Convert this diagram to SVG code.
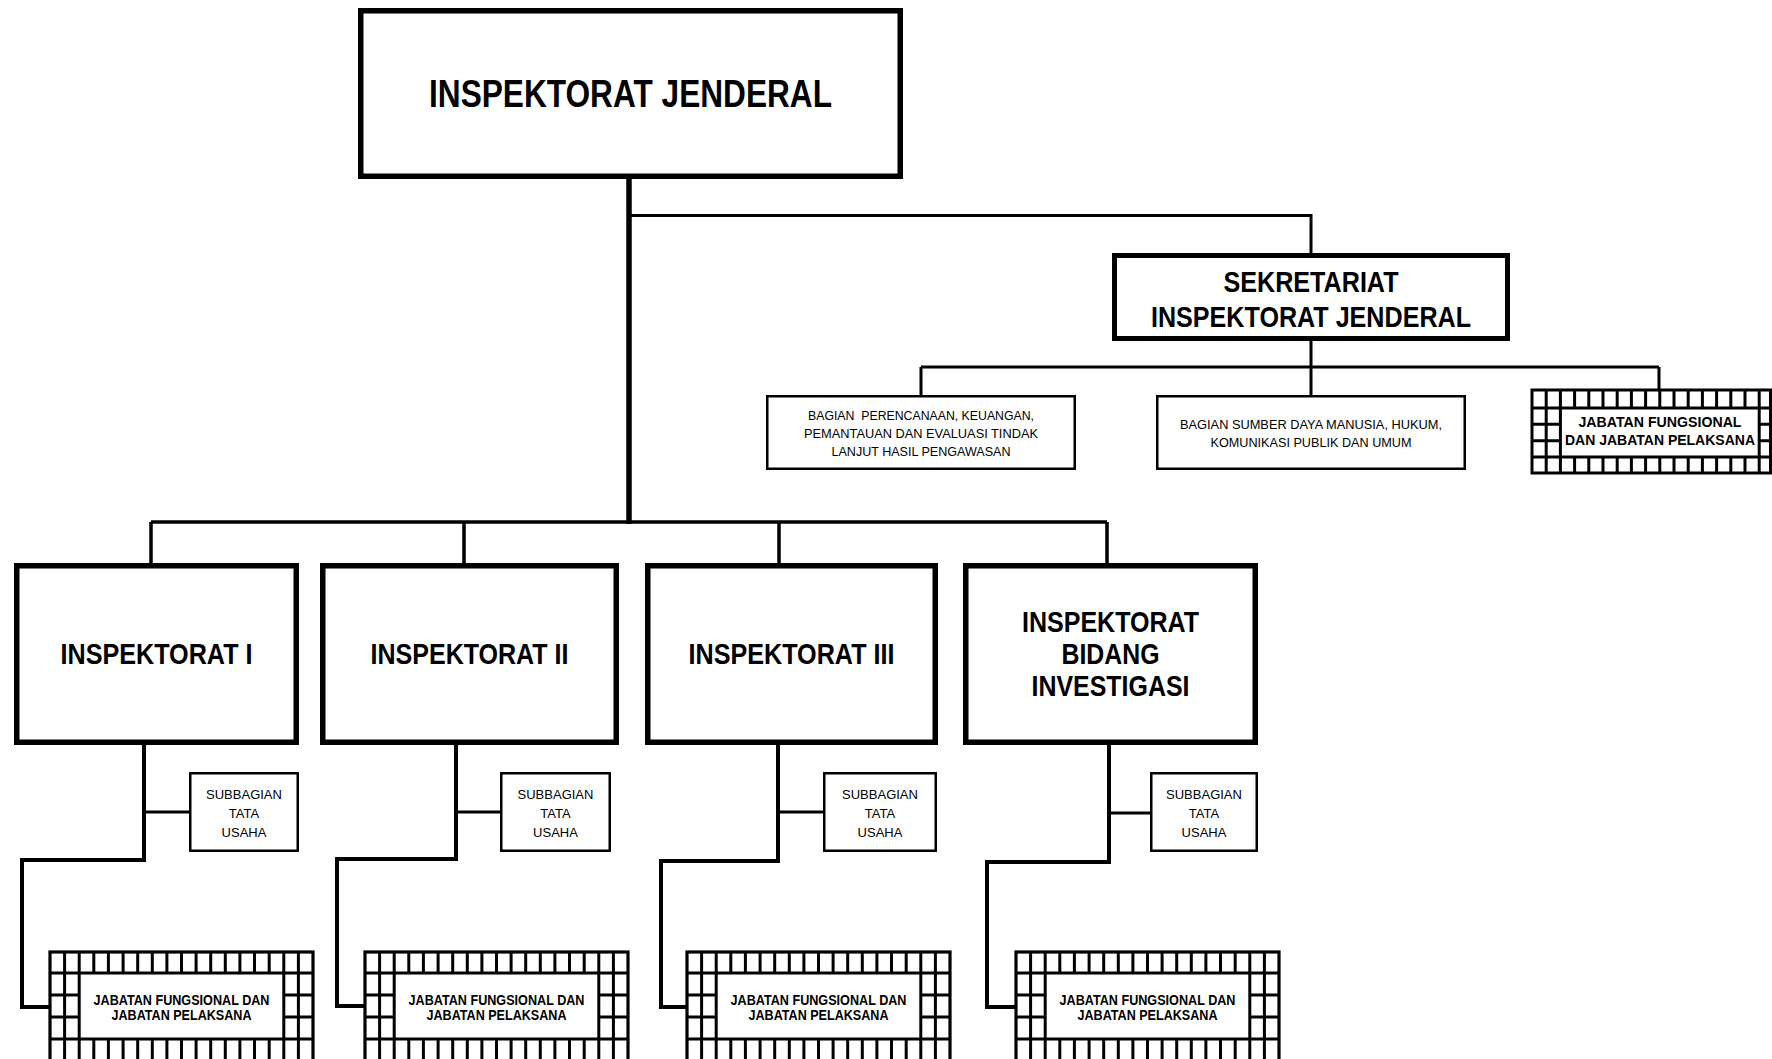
<svg xmlns="http://www.w3.org/2000/svg" xmlns:xlink="http://www.w3.org/1999/xlink" width="1772" height="1059" viewBox="0 0 1772 1059">
<style>
  .t{font-family:"Liberation Sans",Arial,sans-serif;fill:#000;text-anchor:middle}
  .b{font-weight:bold}
  .box{fill:#fff;stroke:#000}
  .thick{stroke-width:5.5}
  .thin{stroke-width:2.5}
  .grid{fill:none;stroke:#000;stroke-width:3}
  .c{fill:none;stroke:#000;stroke-linejoin:miter}
</style>
<defs>
  <g id="hatch">
    <rect x="0" y="0" width="263" height="110" fill="#fff" stroke="#000" stroke-width="3.2"/>
    <path class="grid" d="M14.6 0V21M29.2 0V21M43.8 0V21M58.4 0V21M73.1 0V21M87.7 0V21M102.3 0V21M116.9 0V21M131.5 0V21M146.1 0V21M160.7 0V21M175.3 0V21M189.9 0V21M204.5 0V21M219.2 0V21M233.8 0V21M248.4 0V21
    M14.6 87V110M29.2 87V110M43.8 87V110M58.4 87V110M73.1 87V110M87.7 87V110M102.3 87V110M116.9 87V110M131.5 87V110M146.1 87V110M160.7 87V110M175.3 87V110M189.9 87V110M204.5 87V110M219.2 87V110M233.8 87V110M248.4 87V110
    M14.6 21V87M29.2 21V87M233.8 21V87M248.4 21V87
    M0 21H263M0 87H263M0 43H29.2M0 65H29.2M233.8 43H263M233.8 65H263"/>
  </g>
</defs>

<g id="connectors">
  <path class="c" stroke-width="5.5" d="M629 178V524"/>
  <path class="c" stroke-width="3" d="M629 215.5H1311V254"/>
  <path class="c" stroke-width="3" d="M1311 340V367"/>
  <path class="c" stroke-width="3" d="M921 367H1659"/>
  <path class="c" stroke-width="3" d="M921 367V396M1311 367V396M1659 367V391"/>
  <path class="c" stroke-width="3.5" d="M151 522H1107"/>
  <path class="c" stroke-width="3.5" d="M151 522V564M464 522V564M779 522V564M1107 522V564"/>
  <path class="c" stroke-width="4" d="M144 744V860H22V1007H51"/>
  <path class="c" stroke-width="3" d="M144 812H190"/>
  <path class="c" stroke-width="4" d="M456 744V859H337V1006H366"/>
  <path class="c" stroke-width="3" d="M456 812H501"/>
  <path class="c" stroke-width="4" d="M778 744V861H661V1007H688"/>
  <path class="c" stroke-width="3" d="M778 812H824"/>
  <path class="c" stroke-width="4" d="M1109 744V862H987V1007H1017"/>
  <path class="c" stroke-width="3" d="M1109 813H1151"/>
</g>

<g id="inspektorat-jenderal">
  <rect class="box thick" x="360.75" y="10.75" width="539.5" height="165.5"/>
  <text class="t b" x="630.5" y="107" font-size="38" textLength="403" lengthAdjust="spacingAndGlyphs">INSPEKTORAT JENDERAL</text>
</g>

<g id="sekretariat">
  <rect class="box" stroke-width="5" x="1114.5" y="255.5" width="393" height="83"/>
  <text class="t b" x="1311" y="292" font-size="30" textLength="175" lengthAdjust="spacingAndGlyphs">SEKRETARIAT</text>
  <text class="t b" x="1311" y="327" font-size="30" textLength="320" lengthAdjust="spacingAndGlyphs">INSPEKTORAT JENDERAL</text>
</g>

<g id="bagian-perencanaan">
  <rect class="box thin" x="767.25" y="396.25" width="307.5" height="72.5"/>
  <text class="t" x="921" y="419.5" font-size="12.5" textLength="226" lengthAdjust="spacingAndGlyphs" xml:space="preserve">BAGIAN  PERENCANAAN, KEUANGAN,</text>
  <text class="t" x="921" y="437.5" font-size="12.5" textLength="234" lengthAdjust="spacingAndGlyphs">PEMANTAUAN DAN EVALUASI TINDAK</text>
  <text class="t" x="921" y="455.5" font-size="12.5" textLength="179" lengthAdjust="spacingAndGlyphs">LANJUT HASIL PENGAWASAN</text>
</g>

<g id="bagian-sdm">
  <rect class="box thin" x="1157.25" y="396.25" width="307.5" height="72.5"/>
  <text class="t" x="1311" y="428.5" font-size="12.5" textLength="262" lengthAdjust="spacingAndGlyphs">BAGIAN SUMBER DAYA MANUSIA, HUKUM,</text>
  <text class="t" x="1311" y="446.5" font-size="12.5" textLength="201" lengthAdjust="spacingAndGlyphs">KOMUNIKASI PUBLIK DAN UMUM</text>
</g>

<g id="jabatan-sekretariat" transform="translate(1532 390)">
  <rect x="0" y="0" width="238.5" height="83" fill="#fff" stroke="#000" stroke-width="3"/>
  <path class="grid" d="M14.2 0V18M28.4 0V18M42.6 0V18M56.8 0V18M71 0V18M85.2 0V18M99.4 0V18M113.6 0V18M127.8 0V18M142 0V18M156.2 0V18M170.4 0V18M184.6 0V18M198.8 0V18M213 0V18M227.2 0V18
  M14.2 67V83M28.4 67V83M42.6 67V83M56.8 67V83M71 67V83M85.2 67V83M99.4 67V83M113.6 67V83M127.8 67V83M142 67V83M156.2 67V83M170.4 67V83M184.6 67V83M198.8 67V83M213 67V83M227.2 67V83
  M14.2 18V67M28.4 18V67M227.2 18V67
  M0 18H238.5M0 67H238.5M0 34.3H28.4M0 50.7H28.4M227.2 34.3H238.5M227.2 50.7H238.5"/>
  <text class="t b" x="128" y="37" font-size="14.5" textLength="163" lengthAdjust="spacingAndGlyphs">JABATAN FUNGSIONAL</text>
  <text class="t b" x="128" y="55" font-size="14" textLength="190" lengthAdjust="spacingAndGlyphs">DAN JABATAN PELAKSANA</text>
</g>

<g id="inspektorat-1">
  <rect class="box thick" x="16.75" y="565.75" width="279.5" height="176.5"/>
  <text class="t b" x="156.5" y="664" font-size="30" textLength="192" lengthAdjust="spacingAndGlyphs">INSPEKTORAT I</text>
</g>
<g id="inspektorat-2">
  <rect class="box thick" x="322.75" y="565.75" width="293.5" height="176.5"/>
  <text class="t b" x="469.5" y="664" font-size="30" textLength="198" lengthAdjust="spacingAndGlyphs">INSPEKTORAT II</text>
</g>
<g id="inspektorat-3">
  <rect class="box thick" x="647.75" y="565.75" width="287.5" height="176.5"/>
  <text class="t b" x="791.5" y="664" font-size="30" textLength="206" lengthAdjust="spacingAndGlyphs">INSPEKTORAT III</text>
</g>
<g id="inspektorat-investigasi">
  <rect class="box thick" x="965.75" y="565.75" width="289.5" height="176.5"/>
  <text class="t b" x="1110.5" y="632" font-size="30" textLength="177" lengthAdjust="spacingAndGlyphs">INSPEKTORAT</text>
  <text class="t b" x="1110.5" y="664" font-size="30" textLength="98" lengthAdjust="spacingAndGlyphs">BIDANG</text>
  <text class="t b" x="1110.5" y="696" font-size="30" textLength="158" lengthAdjust="spacingAndGlyphs">INVESTIGASI</text>
</g>

<g id="subbagian-1">
  <rect class="box thin" x="190.25" y="773.25" width="107.5" height="77.5"/>
  <text class="t" x="244" y="799" font-size="13">SUBBAGIAN</text>
  <text class="t" x="244" y="818" font-size="13">TATA</text>
  <text class="t" x="244" y="837" font-size="13">USAHA</text>
</g>
<g id="subbagian-2">
  <rect class="box thin" x="501.25" y="773.25" width="108.5" height="77.5"/>
  <text class="t" x="555.5" y="799" font-size="13">SUBBAGIAN</text>
  <text class="t" x="555.5" y="818" font-size="13">TATA</text>
  <text class="t" x="555.5" y="837" font-size="13">USAHA</text>
</g>
<g id="subbagian-3">
  <rect class="box thin" x="824.25" y="773.25" width="111.5" height="77.5"/>
  <text class="t" x="880" y="799" font-size="13">SUBBAGIAN</text>
  <text class="t" x="880" y="818" font-size="13">TATA</text>
  <text class="t" x="880" y="837" font-size="13">USAHA</text>
</g>
<g id="subbagian-4">
  <rect class="box thin" x="1151.25" y="773.25" width="105.5" height="77.5"/>
  <text class="t" x="1204" y="799" font-size="13">SUBBAGIAN</text>
  <text class="t" x="1204" y="818" font-size="13">TATA</text>
  <text class="t" x="1204" y="837" font-size="13">USAHA</text>
</g>

<g id="jabatan-1" transform="translate(50 952)">
  <use xlink:href="#hatch" href="#hatch"/>
  <text class="t b" x="131.5" y="53" font-size="14" textLength="176" lengthAdjust="spacingAndGlyphs">JABATAN FUNGSIONAL DAN</text>
  <text class="t b" x="131.5" y="68" font-size="14" textLength="140" lengthAdjust="spacingAndGlyphs">JABATAN PELAKSANA</text>
</g>
<g id="jabatan-2" transform="translate(365 952)">
  <use xlink:href="#hatch" href="#hatch"/>
  <text class="t b" x="131.5" y="53" font-size="14" textLength="176" lengthAdjust="spacingAndGlyphs">JABATAN FUNGSIONAL DAN</text>
  <text class="t b" x="131.5" y="68" font-size="14" textLength="140" lengthAdjust="spacingAndGlyphs">JABATAN PELAKSANA</text>
</g>
<g id="jabatan-3" transform="translate(687 952)">
  <use xlink:href="#hatch" href="#hatch"/>
  <text class="t b" x="131.5" y="53" font-size="14" textLength="176" lengthAdjust="spacingAndGlyphs">JABATAN FUNGSIONAL DAN</text>
  <text class="t b" x="131.5" y="68" font-size="14" textLength="140" lengthAdjust="spacingAndGlyphs">JABATAN PELAKSANA</text>
</g>
<g id="jabatan-4" transform="translate(1016 952)">
  <use xlink:href="#hatch" href="#hatch"/>
  <text class="t b" x="131.5" y="53" font-size="14" textLength="176" lengthAdjust="spacingAndGlyphs">JABATAN FUNGSIONAL DAN</text>
  <text class="t b" x="131.5" y="68" font-size="14" textLength="140" lengthAdjust="spacingAndGlyphs">JABATAN PELAKSANA</text>
</g>
</svg>
